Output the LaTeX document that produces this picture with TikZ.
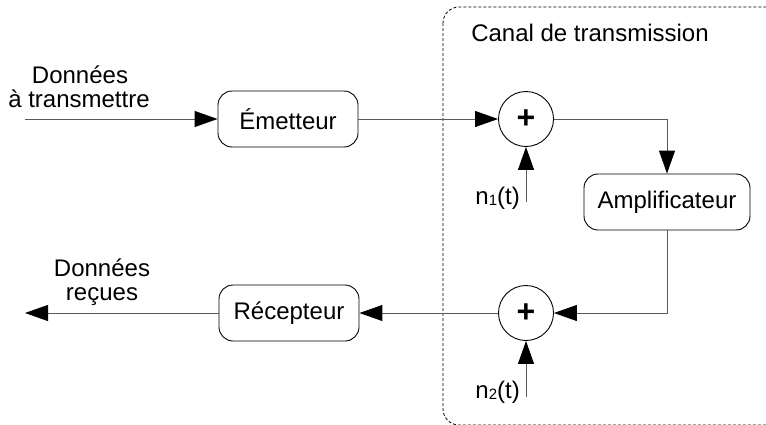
\documentclass[tikz,border=0pt]{standalone}
\usepackage{fontspec}
\setmainfont{Liberation Sans}
\usetikzlibrary{arrows.meta}
\newcommand{\lowsub}[1]{\raisebox{-1.5pt}{\fontsize{15}{15}\selectfont #1}}
\begin{document}
\begin{tikzpicture}[x=1pt,y=-1pt,
  every node/.style={font=\fontsize{24}{24}\selectfont},
  blockbox/.style={draw=black, line width=0.9pt, rounded corners=14pt, minimum width=140pt, minimum height=56pt, inner sep=0pt},
  sumnode/.style={draw=black, line width=0.9pt, circle, minimum size=55pt, inner sep=0pt, font=\fontsize{32}{32}\selectfont\bfseries},
  lbl/.style={inner sep=0pt, anchor=base},
  conn/.style={draw=black!65, line width=1pt, -{Triangle[length=23pt,width=16pt,color=black]}},
  chanbox/.style={draw=black, line width=0.8pt, dash pattern=on 3pt off 2pt, rounded corners=16pt}]
\useasboundingbox (0,0) rectangle (766,424);
\begin{scope}
  \clip (0,0) rectangle (766,424);
  \draw[chanbox] (443,7) rectangle (800,425);
\end{scope}
\node[lbl] (canal) at (590,41) {Canal de transmission};
\node[blockbox] (em) at (288,119) {Émetteur};
\node[sumnode] (s1) at (526,119) {+};
\node[blockbox, minimum width=166pt] (amp) at (667,202) {Amplificateur};
\node[sumnode] (s2) at (526,313) {+};
\node[blockbox] (rec) at (289,313) {Récepteur};
\coordinate (in) at (25,119);
\coordinate (out) at (25,313);
\coordinate (n1) at (526,202);
\coordinate (n2) at (526,397);
\node[lbl] (d1a) at (80,83) {Données};
\node[lbl] (d1b) at (79,107) {à transmettre};
\node[lbl] (d2a) at (102,276) {Données};
\node[lbl] (d2b) at (102,300) {reçues};
\node[lbl, anchor=base east] (n1l) at (520,204) {n\lowsub{1}(t)};
\node[lbl, anchor=base east] (n2l) at (520,398) {n\lowsub{2}(t)};
\draw[conn] (in) -- (em);
\draw[conn] (em) -- (s1);
\draw[conn] (s1.east) -| (amp.north);
\draw[conn] (n1) -- (s1);
\draw[conn] (amp.south) |- (s2.east);
\draw[conn] (n2) -- (s2);
\draw[conn] (s2) -- (rec);
\draw[conn] (rec) -- (out);
\end{tikzpicture}
\end{document}
